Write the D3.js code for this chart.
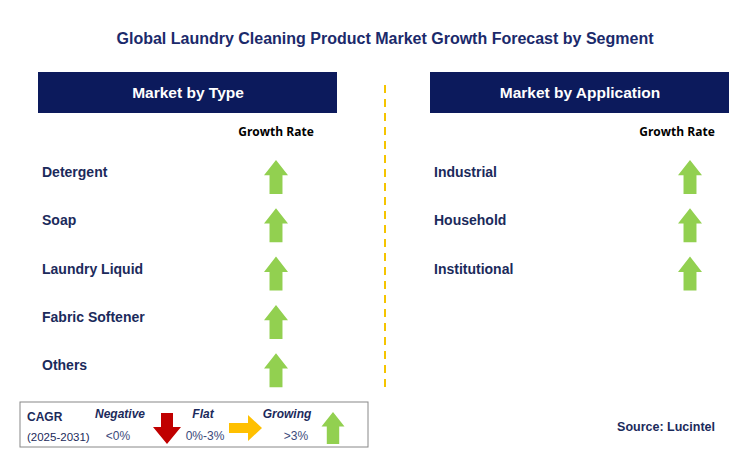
<!DOCTYPE html>
<html lang="en">
<head>
<meta charset="UTF-8">
<script src="https://d3js.org/d3.v7.min.js"></script>
<style>body{margin:0;background:#fff}</style>
</head>
<body>
<div id="chart"></div>
<script>
const typeCats = ["Detergent", "Soap", "Laundry Liquid", "Fabric Softener", "Others"];
const typeTrend = ["up", "up", "up", "up", "up"];
const appCats = ["Industrial", "Household", "Institutional"];
const appTrend = ["up", "up", "up"];

const W = 750, H = 476;
const navy = "#0c1a5c", green = "#92d050";
const svg = d3.select("#chart").append("svg").attr("width", W).attr("height", H)
    .style("font-family", "Arial, 'Liberation Sans', sans-serif");

svg.append("text").attr("x", 385).attr("y", 44).attr("text-anchor", "middle")
    .attr("font-size", 16).attr("font-weight", "bold").attr("fill", "#1b2a6b")
    .text("Global Laundry Cleaning Product Market Growth Forecast by Segment");

// up arrow centred at (cx, cy)
function upArrow(g, cx, cy, w, h, fill) {
    const hw = w / 2, sw = w * 0.27, hh = h * 0.45;
    g.append("path")
        .attr("d", `M${cx},${cy - h / 2} L${cx + hw},${cy - h / 2 + hh} L${cx + sw},${cy - h / 2 + hh}
            L${cx + sw},${cy + h / 2} L${cx - sw},${cy + h / 2} L${cx - sw},${cy - h / 2 + hh}
            L${cx - hw},${cy - h / 2 + hh} Z`)
        .attr("fill", fill);
}

function panel(x0, title, cats, trends, arrowX, labelX) {
    svg.append("rect").attr("x", x0).attr("y", 72).attr("width", 299).attr("height", 41).attr("fill", navy);
    svg.append("text").attr("x", x0 + 150).attr("y", 98).attr("text-anchor", "middle")
        .attr("font-size", 15.5).attr("font-weight", "bold").attr("fill", "#fff").text(title);
    svg.append("text").attr("x", labelX).attr("y", 136).attr("text-anchor", "middle")
        .attr("font-family", "'Open Sans', sans-serif")
        .attr("font-size", 12).attr("font-weight", "bold").attr("fill", "#000").text("Growth Rate");
    const y = d3.scalePoint().domain(cats).range([172, 172 + 48.3 * (cats.length - 1)]);
    cats.forEach((c, i) => {
        svg.append("text").attr("x", x0 + 4).attr("y", y(c) + 5).attr("font-size", 14)
            .attr("font-weight", "bold").attr("fill", "#1b2a5b").text(c);
        if (trends[i] === "up") upArrow(svg, arrowX, y(c) + 5, 24, 34, green);
    });
}
panel(38, "Market by Type", typeCats, typeTrend, 276, 276);
panel(430, "Market by Application", appCats, appTrend, 690, 677);

svg.append("line").attr("x1", 385).attr("x2", 385).attr("y1", 85).attr("y2", 388)
    .attr("stroke", "#f5c400").attr("stroke-width", 2).attr("stroke-dasharray", "8,6");

// legend
const lg = svg.append("g");
lg.append("rect").attr("x", 20).attr("y", 402).attr("width", 348).attr("height", 45)
    .attr("fill", "#fff").attr("stroke", "#888").attr("stroke-width", 1);
lg.append("text").attr("x", 27).attr("y", 421).attr("font-size", 12).attr("font-weight", "bold")
    .attr("fill", "#1b2a5b").text("CAGR");
lg.append("text").attr("x", 27).attr("y", 441).attr("font-size", 11.5).attr("fill", "#1b2a5b").text("(2025-2031)");
const lab = [["Negative", 120, "<0%", 118], ["Flat", 203, "0%-3%", 205], ["Growing", 287, ">3%", 296]];
lab.forEach(l => {
    lg.append("text").attr("x", l[1]).attr("y", 418).attr("text-anchor", "middle").attr("font-size", 12)
        .attr("font-weight", "bold").attr("font-style", "italic").attr("fill", "#1b2a5b").text(l[0]);
    lg.append("text").attr("x", l[3]).attr("y", 440).attr("text-anchor", "middle").attr("font-size", 12)
        .attr("fill", "#3b4a7b").text(l[2]);
});
// down red arrow
lg.append("path").attr("d", "M161,413 L173,413 L173,427 L181,427 L167,444 L153,427 L161,427 Z").attr("fill", "#c00000");
// right yellow arrow
lg.append("path").attr("d", "M229,423 L248,423 L248,415 L262,428 L248,441 L248,433 L229,433 Z").attr("fill", "#ffc000");
upArrow(lg, 333, 428, 23, 32, green);
lg.append("text").attr("x", 715).attr("y", 431).attr("text-anchor", "end").attr("font-size", 12.5)
    .attr("font-weight", "bold").attr("fill", "#1b2a5b").text("Source: Lucintel");
</script>
</body>
</html>
